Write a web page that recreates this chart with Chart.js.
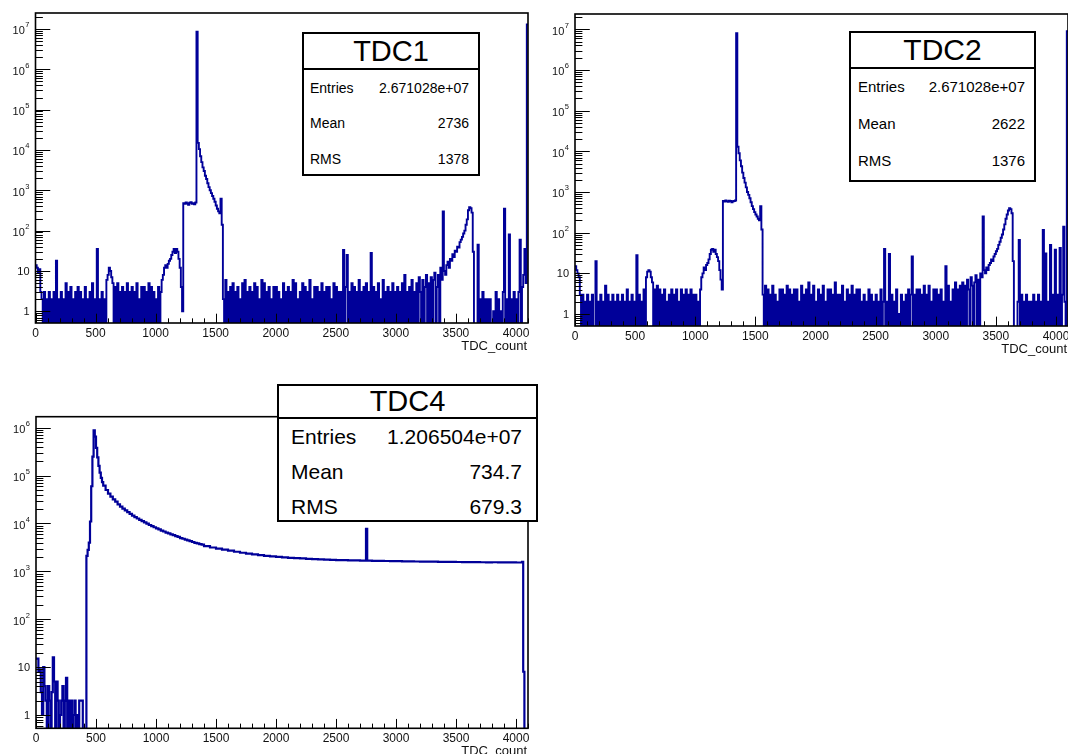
<!DOCTYPE html>
<html>
<head>
<meta charset="utf-8">
<script src="https://cdn.jsdelivr.net/npm/chart.js@4.4.0/dist/chart.umd.min.js"></script>
<style>
  body { margin: 0; background: #fff; font-family: "Liberation Sans", Arial, sans-serif; }
  #page { position: relative; width: 1068px; height: 754px; overflow: hidden; }
  canvas { position: absolute; }
  .stats { position: absolute; box-sizing: border-box; border: 2px solid #000; background: #fff; color: #000; }
  .stats .title { position: absolute; left: 0; right: 0; top: 0; box-sizing: border-box; text-align: center; border-bottom: 2px solid #000; }
  .stats .row { position: absolute; left: 0; right: 0; box-sizing: border-box; display: flex; justify-content: space-between; }
</style>
</head>
<body>
<div id="page"></div>
<script>
// ---- data (bin counts, 10 TDC units per bin) ----
const binWidth = 10;
const xMax = 4100;
const xTickValues = [0, 500, 1000, 1500, 2000, 2500, 3000, 3500, 4000];
const xTickLabels = ['0', '500', '1000', '1500', '2000', '2500', '3000', '3500', '4000'];
const xMinorStep = 100;
const yDecades = [1, 10, 100, 1e3, 1e4, 1e5, 1e6, 1e7];
const yDecadeBase = ['1', '10', '10', '10', '10', '10', '10', '10'];
const yDecadeExp = ['', '', '2', '3', '4', '5', '6', '7'];
const axisTitle = 'TDC_count';

const statLabels = ['Entries', 'Mean', 'RMS'];
const tdc1Stats = ['2.671028e+07', '2736', '1378'];
const tdc2Stats = ['2.671028e+07', '2622', '1376'];
const tdc4Stats = ['1.206504e+07', '734.7', '679.3'];

const tdc1Counts = [
  14,12,9,11,3,2,0,3,0,2,0,3,0,2,0,3,0,18,0,2,
  0,3,0,2,0,5,0,3,0,4,0,2,0,3,0,4,0,3,0,2,
  0,4,0,2,0,3,0,5,0,2,0,35,0,2,0,3,0,2,0,6,
  8,12,10,7,5,0,4,0,5,0,3,0,4,0,3,0,5,0,3,0,
  4,0,3,0,5,0,2,0,4,0,4,0,3,0,5,0,4,0,3,0,
  2,0,4,0,3,6,8,12,14,12,15,18,20,25,30,35,28,35,30,20,
  12,4,1,480,460,500,470,440,490,510,460,480,450,500,8600000,15000,10500,7000,5000,3700,
  3000,2300,1900,1500,1200,1000,850,720,620,520,420,350,300,270,620,140,2,0,6,0,
  3,0,4,0,5,0,3,0,4,0,2,0,5,0,6,0,3,0,4,0,
  3,0,5,0,4,0,2,0,6,0,5,0,3,0,4,0,2,0,4,0,
  4,0,3,0,2,0,5,0,3,0,4,0,3,0,6,0,5,0,2,0,
  3,0,5,0,4,0,3,0,6,0,2,0,4,0,4,0,3,0,5,0,
  3,0,4,0,4,0,2,0,5,0,4,0,3,0,3,0,33,0,4,25,
  0,3,0,5,0,4,0,3,0,6,0,3,0,4,0,5,0,3,0,28,
  0,4,0,3,0,5,0,2,0,6,0,3,0,4,0,3,0,5,0,3,
  0,4,0,3,0,5,0,8,0,3,0,4,0,6,0,3,0,5,0,7,
  3,0,6,0,4,8,0,5,0,7,0,6,9,0,4,8,0,12,6,300,
  10,8,14,17,12,20,18,26,22,32,30,40,38,52,60,70,85,100,140,190,
  320,380,360,280,30,0,0,0,45,0,2,0,3,0,2,0,2,0,2,0,
  0,1,0,3,0,2,0,1,0,3,350,0,2,0,80,0,2,0,3,0,
  2,0,3,60,0,4,8,35,5,13000000
];

const tdc2Counts = [
  15,12,10,8,3,0,3,0,2,0,3,0,2,0,3,0,0,20,0,2,
  0,3,0,2,0,5,0,3,0,2,0,3,0,2,0,3,0,2,0,3,
  0,2,0,4,0,2,0,3,0,2,0,28,0,3,0,2,0,4,0,8,
  11,12,11,8,6,0,4,0,5,0,4,0,3,0,4,0,2,0,3,0,
  4,0,3,0,4,0,2,0,4,0,3,0,4,0,3,0,4,0,3,0,
  3,0,2,0,4,8,10,14,12,16,18,22,30,38,40,34,38,30,25,20,
  12,7,4,600,580,620,590,570,610,600,560,590,600,620,8000000,13000,9000,6000,4300,3000,
  2200,1700,1300,1000,850,700,560,450,380,320,280,250,220,200,450,120,3,0,5,0,
  4,0,3,0,5,0,3,0,2,0,4,0,4,0,3,0,5,0,4,0,
  3,0,4,0,4,0,2,0,5,0,3,0,4,0,6,0,3,0,5,0,
  2,0,4,0,3,0,5,0,2,0,4,0,4,0,3,0,6,0,3,0,
  3,0,5,0,2,0,4,0,3,0,5,0,3,0,4,0,4,0,2,0,
  3,0,2,0,4,0,3,0,2,0,3,0,2,0,4,0,2,40,0,2,
  0,30,0,3,0,2,0,4,0,1,0,3,0,2,0,3,0,4,0,3,
  26,0,3,0,4,0,4,0,3,0,5,0,3,0,5,0,2,0,4,0,
  4,0,3,0,4,0,2,0,15,0,5,0,2,0,4,0,6,0,4,0,
  5,0,6,0,5,0,7,4,0,8,5,0,6,9,0,7,0,10,8,250,
  12,10,14,12,16,18,22,20,26,30,35,40,50,60,75,90,120,160,220,280,
  350,400,380,300,20,0,0,0,2,66,0,3,0,2,0,3,0,2,0,2,
  0,3,0,2,0,3,0,2,0,116,0,31,0,2,0,50,0,3,0,38,
  0,3,0,42,0,3,140,2,0,9000000
];

// TDC4: variable bin edges (lower edges, last entry closes the final bin)
const tdc4Edges = [
  0,10,20,30,40,50,60,70,80,90,
  100,110,120,130,140,150,160,170,180,190,
  200,210,220,230,240,250,260,270,280,290,
  300,310,320,330,340,350,360,370,380,390,
  400,410,420,430,440,450,460,470,480,490,
  500,510,520,530,540,550,560,580,600,620,
  640,660,680,700,720,740,760,780,800,820,
  840,860,880,900,920,940,960,980,1000,1020,
  1040,1060,1080,1100,1120,1140,1160,1180,1200,1220,
  1240,1260,1280,1300,1320,1340,1360,1380,1400,1450,
  1500,1550,1600,1650,1700,1750,1800,1850,1900,1950,
  2000,2050,2100,2150,2200,2250,2300,2350,2400,2450,
  2500,2550,2600,2650,2700,2750,2760,2800,2850,2900,
  2950,3000,3050,3100,3150,3200,3250,3300,3350,3400,
  3450,3500,3550,3600,3650,3700,3750,3800,3850,3900,
  3950,4000,4050,4060,4070,4100
];
const tdc4Counts = [
  15,15,8,9,3,1,10,4,2,0,
  4,2,0,3,16,5,0,5,2,0,
  1,2,4,0,2,6,0,2,0,2,
  0,1,2,0,1,0,2,2,2,0,
  0,0,2100,2800,4000,11000,60000,250000,880000,650000,
  380000,240000,160000,115000,90000,73000,62000,50000,42000,36500,
  32000,28500,25000,22500,20500,18800,17200,15900,14600,13600,
  12700,11900,11200,10500,9900,9300,8800,8350,7900,7500,
  7100,6800,6450,6200,5900,5700,5450,5250,4950,4800,
  4600,4450,4300,4100,3950,3850,3700,3600,3350,3150,
  2980,2850,2700,2570,2450,2350,2260,2180,2110,2050,
  2000,1960,1920,1890,1860,1830,1800,1780,1760,1740,
  1720,1715,1700,1690,1680,7700,1670,1660,1650,1645,
  1635,1630,1620,1615,1605,1600,1595,1590,1585,1580,
  1575,1570,1565,1560,1555,1550,1545,1550,1540,1540,
  1535,1530,1580,8,0
];

function uniformEdges(n) {
  const e = [];
  for (let i = 0; i <= n; i++) e.push(i * binWidth);
  return e;
}

function histPoints(edges, counts, floor) {
  const pts = [];
  for (let i = 0; i < counts.length; i++) {
    pts.push({ x: edges[i], y: counts[i] > 0 ? counts[i] : floor });
  }
  pts.push({ x: edges[counts.length], y: pts[pts.length - 1].y });
  return pts;
}

const panels = [
  { left: 0, top: 0, width: 540, height: 360,
    pad: { left: 35.5, top: 13, right: 12, bottom: 37 },
    yMin: 0.513, yMax: 2.49e7, lineWidth: 1.9,
    edges: uniformEdges(tdc1Counts.length), counts: tdc1Counts,
    box: { title: 'TDC1', stats: tdc1Stats, left: 302, top: 32, width: 178, height: 144,
           sep: 37, rows: [88, 123, 159], font: 14, titleFont: 29, padL: 6, padR: 9 } },
  { left: 540, top: 0, width: 528, height: 360,
    pad: { left: 35, top: 14, right: 0, bottom: 34 },
    yMin: 0.507, yMax: 2.38e7, lineWidth: 1.9,
    edges: uniformEdges(tdc2Counts.length), counts: tdc2Counts,
    box: { title: 'TDC2', stats: tdc2Stats, left: 849, top: 31, width: 187, height: 151,
           sep: 37, rows: [87, 124, 161], font: 15, titleFont: 30, padL: 7, padR: 9 } },
  { left: 0, top: 370, width: 540, height: 384,
    pad: { left: 36, top: 46.7, right: 12, bottom: 25.7 },
    yMin: 0.527, yMax: 1.7e6, lineWidth: 2.2,
    edges: tdc4Edges, counts: tdc4Counts,
    box: { title: 'TDC4', stats: tdc4Stats, left: 277, top: 384, width: 261, height: 138,
           sep: 34, rows: [437, 472, 507], font: 21, titleFont: 29, padL: 12, padR: 14 } }
];

const rootAxes = {
  id: 'rootAxes',
  afterDatasetsDraw(chart) {
    const ctx = chart.ctx;
    const a = chart.chartArea;
    const xs = chart.scales.x, ys = chart.scales.y;
    const w = a.right - a.left, h = a.bottom - a.top;
    const xMajor = 0.03 * h, yMajor = 0.03 * w;
    ctx.save();
    ctx.strokeStyle = '#000';
    ctx.lineWidth = 1;
    ctx.beginPath();
    for (let v = 0; v <= xMax; v += xMinorStep) {
      const px = Math.round(xs.getPixelForValue(v)) + 0.5;
      const len = xTickValues.includes(v) ? xMajor : xMajor / 2;
      ctx.moveTo(px, a.bottom);
      ctx.lineTo(px, a.bottom - len);
    }
    for (let d = -1; d <= 8; d++) {
      for (let k = 1; k <= 9; k++) {
        const v = k * Math.pow(10, d);
        if (v < ys.min || v > ys.max) continue;
        const py = Math.round(ys.getPixelForValue(v)) + 0.5;
        ctx.moveTo(a.left, py);
        ctx.lineTo(a.left + (k === 1 ? yMajor : yMajor / 2), py);
      }
    }
    ctx.stroke();
    ctx.lineWidth = 1.6;
    ctx.strokeRect(a.left, a.top, w, h);

    ctx.fillStyle = '#111';
    ctx.font = '12px "Liberation Sans", Arial, sans-serif';
    ctx.textAlign = 'center';
    ctx.textBaseline = 'alphabetic';
    xTickValues.forEach((v, i) => {
      ctx.fillText(xTickLabels[i], xs.getPixelForValue(v), a.bottom + 14);
    });
    ctx.font = '13px "Liberation Sans", Arial, sans-serif';
    ctx.textAlign = 'right';
    ctx.fillText(axisTitle, a.right - 1, a.bottom + 27);

    yDecades.forEach((v, i) => {
      if (v < ys.min || v > ys.max) return;
      const py = ys.getPixelForValue(v);
      const xr = a.left - 6;
      ctx.textAlign = 'right';
      if (yDecadeExp[i]) {
        ctx.font = '7.5px "Liberation Sans", Arial, sans-serif';
        const ew = ctx.measureText(yDecadeExp[i]).width;
        ctx.fillText(yDecadeExp[i], xr, py - 1.5);
        ctx.font = '11px "Liberation Sans", Arial, sans-serif';
        ctx.fillText(yDecadeBase[i], xr - ew - 0.5, py + 5.5);
      } else {
        ctx.font = '11px "Liberation Sans", Arial, sans-serif';
        ctx.fillText(yDecadeBase[i], xr, py + 4);
      }
    });
    ctx.restore();
  }
};

const page = document.getElementById('page');

function makeBox(b) {
  const el = document.createElement('div');
  el.className = 'stats';
  Object.assign(el.style, { left: b.left + 'px', top: b.top + 'px', width: b.width + 'px', height: b.height + 'px' });
  const t = document.createElement('div');
  t.className = 'title';
  t.textContent = b.title;
  Object.assign(t.style, { height: (b.sep - 1) + 'px', lineHeight: (b.sep - 3) + 'px', fontSize: b.titleFont + 'px' });
  el.appendChild(t);
  statLabels.forEach((lab, i) => {
    const row = document.createElement('div');
    row.className = 'row';
    const cy = b.rows[i] - b.top - 2;
    Object.assign(row.style, { top: (cy - 12) + 'px', height: '24px', lineHeight: '24px',
      fontSize: b.font + 'px', paddingLeft: b.padL + 'px', paddingRight: b.padR + 'px' });
    const l = document.createElement('span');
    l.textContent = lab;
    const r = document.createElement('span');
    r.textContent = b.stats[i];
    row.appendChild(l);
    row.appendChild(r);
    el.appendChild(row);
  });
  page.appendChild(el);
}

panels.forEach(p => {
  const cv = document.createElement('canvas');
  cv.width = p.width;
  cv.height = p.height;
  cv.style.left = p.left + 'px';
  cv.style.top = p.top + 'px';
  page.appendChild(cv);
  new Chart(cv.getContext('2d'), {
    type: 'line',
    data: {
      datasets: [{
        data: histPoints(p.edges, p.counts, p.yMin / 3),
        stepped: 'before',
        borderColor: '#000099',
        borderWidth: p.lineWidth,
        pointRadius: 0,
        fill: false,
        tension: 0,
        clip: 0
      }]
    },
    options: {
      responsive: false,
      animation: false,
      events: [],
      layout: { padding: p.pad },
      plugins: { legend: { display: false }, tooltip: { enabled: false } },
      scales: {
        x: { type: 'linear', min: 0, max: xMax, display: false },
        y: { type: 'logarithmic', min: p.yMin, max: p.yMax, display: false }
      }
    },
    plugins: [rootAxes]
  });
  makeBox(p.box);
});
</script>
</body>
</html>
